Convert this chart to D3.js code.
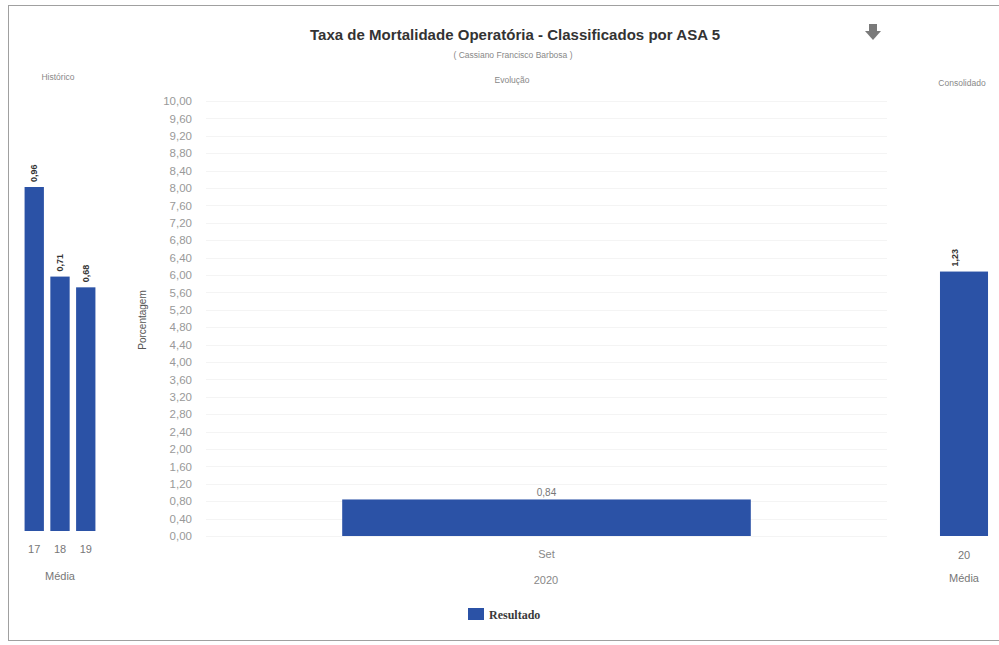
<!DOCTYPE html>
<html>
<head>
<meta charset="utf-8">
<script src="https://cdn.jsdelivr.net/npm/d3@7"></script>
<style>
  body { margin: 0; background: #fff; }
  svg { display: block; font-family: "Liberation Sans", Arial, sans-serif; }
</style>
</head>
<body>
<div id="chart"></div>
<script>
// data
const histCategories = ["17", "18", "19"];
const histValues = [0.96, 0.71, 0.68];
const evoCategories = ["Set"];
const evoValues = [0.84];
const consCategories = ["20"];
const consValues = [1.23];
const yTicks = d3.range(0, 26).map(i => i * 0.4);

const width = 999;
const height = 645;
const barColor = "#2b52a6";
const fmt = v => d3.format(".2f")(v).replace(".", ",");

const svg = d3.select("#chart")
  .append("svg")
  .attr("width", width)
  .attr("height", height);

// outer frame
svg.append("rect")
  .attr("x", 8.5).attr("y", 5.5)
  .attr("width", 1000).attr("height", 635)
  .attr("fill", "none")
  .attr("stroke", "#a0a0a0");

// title
svg.append("text")
  .attr("x", 515).attr("y", 40)
  .attr("text-anchor", "middle")
  .attr("font-size", 15).attr("font-weight", "bold")
  .attr("fill", "#333")
  .attr("textLength", 410)
  .text("Taxa de Mortalidade Operatória - Classificados por ASA 5");

svg.append("text")
  .attr("x", 513).attr("y", 58)
  .attr("text-anchor", "middle")
  .attr("font-size", 8.5)
  .attr("fill", "#888")
  .text("( Cassiano Francisco Barbosa )");

// download arrow
const icon = svg.append("g").attr("transform", "translate(873,33)").attr("fill", "#7a7a7a");
icon.append("rect").attr("x", -4).attr("y", -9).attr("width", 8).attr("height", 8);
icon.append("path").attr("d", "M-8,-2 L8,-2 L0,7 Z");

// ---- Histórico panel
const xHist = d3.scaleBand().domain(histCategories).range([22, 98]).paddingInner(0.25).paddingOuter(0.1);
const yHist = d3.scaleLinear().domain([0, 1.2]).range([531, 101]);

svg.append("text")
  .attr("x", 58).attr("y", 80)
  .attr("text-anchor", "middle").attr("font-size", 8.5).attr("fill", "#888")
  .text("Histórico");

svg.append("g")
  .selectAll("rect")
  .data(histValues)
  .join("rect")
  .attr("x", (d, i) => xHist(histCategories[i]))
  .attr("y", d => yHist(d))
  .attr("width", xHist.bandwidth())
  .attr("height", d => yHist(0) - yHist(d))
  .attr("fill", barColor);

svg.append("g")
  .selectAll("text")
  .data(histValues)
  .join("text")
  .attr("transform", (d, i) => `translate(${xHist(histCategories[i]) + xHist.bandwidth() / 2 + 3},${yHist(d) - 5}) rotate(-90)`)
  .attr("font-size", 9).attr("font-weight", "bold").attr("fill", "#333")
  .text(d => fmt(d));

svg.append("g")
  .selectAll("text")
  .data(histCategories)
  .join("text")
  .attr("x", d => xHist(d) + xHist.bandwidth() / 2)
  .attr("y", 553)
  .attr("text-anchor", "middle").attr("font-size", 11).attr("fill", "#777")
  .text(d => d);

svg.append("text")
  .attr("x", 60).attr("y", 580)
  .attr("text-anchor", "middle").attr("font-size", 11).attr("fill", "#777")
  .text("Média");

// ---- Evolução panel
const xEvo = d3.scaleBand().domain(evoCategories).range([206, 887]).padding(0.25);
const yEvo = d3.scaleLinear().domain([0, 10]).range([536, 101]);

svg.append("text")
  .attr("x", 512).attr("y", 83)
  .attr("text-anchor", "middle").attr("font-size", 8.5).attr("fill", "#888")
  .text("Evolução");

svg.append("g")
  .selectAll("line")
  .data(yTicks)
  .join("line")
  .attr("x1", 206).attr("x2", 887)
  .attr("y1", d => Math.round(yEvo(d)) + 0.5)
  .attr("y2", d => Math.round(yEvo(d)) + 0.5)
  .attr("stroke", "#f4f4f4");

const yAxis = svg.append("g")
  .attr("transform", "translate(195,0)")
  .call(d3.axisLeft(yEvo).tickValues(yTicks).tickFormat(fmt).tickSize(0).tickPadding(3));
yAxis.select(".domain").remove();
yAxis.selectAll("text").attr("font-size", 11.5).attr("fill", "#999").attr("font-family", "Liberation Sans, Arial, sans-serif");

svg.append("text")
  .attr("transform", "translate(146,320) rotate(-90)")
  .attr("text-anchor", "middle").attr("font-size", 10).attr("fill", "#555")
  .text("Porcentagem");

svg.append("g")
  .selectAll("rect")
  .data(evoValues)
  .join("rect")
  .attr("x", (d, i) => xEvo(evoCategories[i]))
  .attr("y", d => yEvo(d))
  .attr("width", xEvo.bandwidth())
  .attr("height", d => yEvo(0) - yEvo(d))
  .attr("fill", barColor);

svg.append("g")
  .selectAll("text")
  .data(evoValues)
  .join("text")
  .attr("x", (d, i) => xEvo(evoCategories[i]) + xEvo.bandwidth() / 2)
  .attr("y", d => yEvo(d) - 3)
  .attr("text-anchor", "middle").attr("font-size", 10).attr("fill", "#777")
  .text(d => fmt(d));

const xAxis = svg.append("g")
  .attr("transform", "translate(0,536)")
  .call(d3.axisBottom(xEvo).tickSize(0).tickPadding(14));
xAxis.select(".domain").remove();
xAxis.selectAll("text").attr("font-size", 11).attr("fill", "#888").attr("font-family", "Liberation Sans, Arial, sans-serif");

svg.append("text")
  .attr("x", 546).attr("y", 584)
  .attr("text-anchor", "middle").attr("font-size", 11).attr("fill", "#888")
  .text("2020");

// ---- Consolidado panel
const xCons = d3.scaleBand().domain(consCategories).range([931.5, 996.5]).padding(0.15);
const yCons = d3.scaleLinear().domain([0, 2]).range([536, 106]);

svg.append("text")
  .attr("x", 962).attr("y", 86)
  .attr("text-anchor", "middle").attr("font-size", 8.5).attr("fill", "#888")
  .text("Consolidado");

svg.append("g")
  .selectAll("rect")
  .data(consValues)
  .join("rect")
  .attr("x", (d, i) => xCons(consCategories[i]))
  .attr("y", d => yCons(d))
  .attr("width", xCons.bandwidth())
  .attr("height", d => yCons(0) - yCons(d))
  .attr("fill", barColor);

svg.append("g")
  .selectAll("text")
  .data(consValues)
  .join("text")
  .attr("transform", (d, i) => `translate(${xCons(consCategories[i]) + xCons.bandwidth() / 2 - 6},${yCons(d) - 5}) rotate(-90)`)
  .attr("font-size", 9).attr("font-weight", "bold").attr("fill", "#333")
  .text(d => fmt(d));

svg.append("g")
  .selectAll("text")
  .data(consCategories)
  .join("text")
  .attr("x", d => xCons(d) + xCons.bandwidth() / 2)
  .attr("y", 559)
  .attr("text-anchor", "middle").attr("font-size", 11).attr("fill", "#777")
  .text(d => d);

svg.append("text")
  .attr("x", 964).attr("y", 582)
  .attr("text-anchor", "middle").attr("font-size", 11).attr("fill", "#777")
  .text("Média");

// legend
svg.append("rect")
  .attr("x", 468).attr("y", 608)
  .attr("width", 16).attr("height", 12)
  .attr("fill", barColor);
svg.append("text")
  .attr("x", 489).attr("y", 619)
  .attr("font-size", 12).attr("font-weight", "bold").attr("fill", "#3a3a3a")
  .attr("font-family", "Liberation Serif, serif")
  .text("Resultado");
</script>
</body>
</html>
